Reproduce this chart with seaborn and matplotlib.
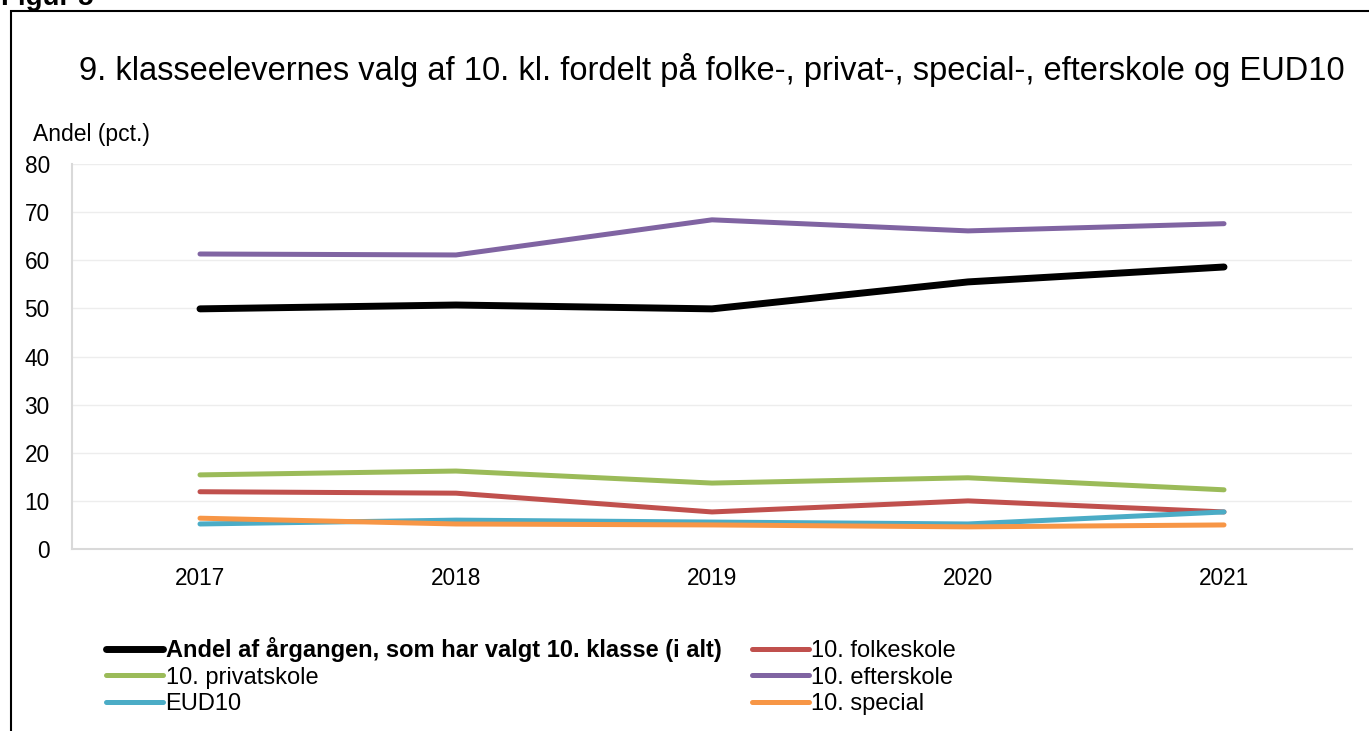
import matplotlib
matplotlib.use("Agg")
import matplotlib.pyplot as plt
from matplotlib.lines import Line2D
from matplotlib.patches import Rectangle
import pandas as pd
import seaborn as sns

# data
years = ["2017", "2018", "2019", "2020", "2021"]
total = [49.9, 50.7, 49.9, 55.5, 58.6]
folkeskole = [11.9, 11.6, 7.7, 10.0, 7.7]
privatskole = [15.4, 16.2, 13.7, 14.8, 12.3]
efterskole = [61.3, 61.1, 68.4, 66.1, 67.6]
eud10 = [5.2, 6.0, 5.6, 5.2, 7.7]
special = [6.4, 5.2, 5.0, 4.6, 5.0]

names = ["Andel af årgangen, som har valgt 10. klasse (i alt)", "10. folkeskole",
         "10. privatskole", "10. efterskole", "EUD10", "10. special"]
series = [total, folkeskole, privatskole, efterskole, eud10, special]
colors = ["#000000", "#C0504D", "#9BBB59", "#8064A2", "#4BACC6", "#F79646"]
widths = [5.0, 3.6, 3.6, 3.6, 3.6, 3.6]

rows = []
for name, vals in zip(names, series):
    for i, v in enumerate(vals):
        rows.append({"serie": name, "pos": i, "val": v})
df = pd.DataFrame(rows)

sns.set_style("white")
plt.rcParams["font.family"] = ["Liberation Sans", "DejaVu Sans"]
plt.rcParams["text.color"] = "black"

fig = plt.figure(figsize=(13.69, 7.31), dpi=100)
ax = fig.add_axes([72 / 1369, 1 - 549 / 731, (1352 - 72) / 1369, (549 - 164) / 731])

sns.lineplot(data=df, x="pos", y="val", hue="serie", hue_order=names,
             palette=dict(zip(names, colors)), size="serie",
             sizes=dict(zip(names, widths)), size_order=names,
             legend=False, ax=ax)
for ln in ax.lines:
    ln.set_solid_capstyle("round")
    ln.set_solid_joinstyle("round")

ax.set_xlim(-0.5, 4.5)
ax.set_ylim(0, 80)
ax.set_yticks(range(0, 81, 10))
ax.set_xticks(range(len(years)))
ax.set_xticklabels(years)
ax.set_xlabel("")
ax.set_ylabel("")
ax.tick_params(axis="both", labelsize=16.3, length=0, colors="#000000")
ax.tick_params(axis="x", pad=13)
ax.tick_params(axis="y", pad=16)
ax.grid(axis="y", color="#EDEDED", lw=1)
ax.set_axisbelow(True)
for s in ["top", "right"]:
    ax.spines[s].set_visible(False)
for s in ["left", "bottom"]:
    ax.spines[s].set_color("#D9D9D9")
    ax.spines[s].set_linewidth(1.5)

# frame and texts
fig.patches.append(Rectangle((11 / 1369, -0.05), 1.1, 1 - 11 / 731 + 0.05,
                             transform=fig.transFigure, fill=False,
                             edgecolor="black", lw=1.5))
fig.text(1 / 1369, 1 - 5 / 731, "Figur 5", fontsize=20, fontweight="bold",
         va="baseline", ha="left")
fig.text(712 / 1369, 1 - 70 / 731,
         "9. klasseelevernes valg af 10. kl. fordelt på folke-, privat-, special-, efterskole og EUD10",
         fontsize=23.5, ha="center", va="center")
fig.text(33 / 1369, 1 - 135 / 731, "Andel (pct.)", fontsize=16.5, ha="left", va="center")

order = [0, 2, 4, 1, 3, 5]
handles = [Line2D([], [], color=colors[i], lw=widths[i], solid_capstyle="round") for i in order]
labels = [names[i] for i in order]
leg = fig.legend(handles, labels, ncol=2, loc="upper left",
                 bbox_to_anchor=(106 / 1369, 1 - 637 / 731), frameon=False,
                 fontsize=17, handlelength=2.4, handletextpad=0.12,
                 columnspacing=1.3, labelspacing=0.2, borderaxespad=0,
                 borderpad=0, labelcolor="black")
leg.get_texts()[0].set_fontweight("bold")

fig.savefig("out.png", dpi=100)
